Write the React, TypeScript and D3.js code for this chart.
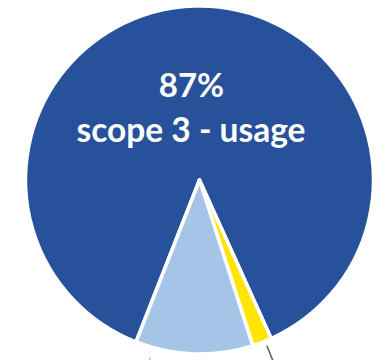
import React from "react";
import * as d3 from "d3";

const categories = ["scope 3 - usage", "other", "scope 3 - manufacturing"];
const values = [87.3, 1.8, 10.9];
const colors = ["#27519A", "#FFE500", "#A6C4E7"];
const centerLabelPct = "87%";
const centerLabelName = "scope 3 - usage";

const W = 386;
const H = 360;
const cx = 199.5;
const cy = 180;
const R = 174;
const startDeg = 201.4;

export default function App() {
  const pie = d3
    .pie<number>()
    .sort(null)
    .value((d) => d)
    .startAngle((startDeg * Math.PI) / 180)
    .endAngle((startDeg * Math.PI) / 180 + 2 * Math.PI);
  const arcs = pie(values);
  const arc = d3.arc<d3.PieArcDatum<number>>().innerRadius(0).outerRadius(R);

  const pt = (a: number, r: number): [number, number] => [
    Math.sin(a) * r,
    -Math.cos(a) * r,
  ];

  // leader lines for labels below the visible area
  const yArc = arcs[1];
  const yMid = (yArc.startAngle + yArc.endAngle) / 2 - 0.018;
  const y1 = pt(yMid, R + 5);
  const y2 = pt(yMid, R + 25);
  const lbArc = arcs[2];
  const lbA = lbArc.startAngle + (lbArc.endAngle - lbArc.startAngle) * 0.85;
  const l1 = pt(lbA, R + 10);
  const l2 = pt(lbA, R + 30);

  return (
    <svg
      width={W}
      height={H}
      style={{ position: "absolute", left: 0, top: 0, background: "#fff" }}
    >
      <g transform={`translate(${cx},${cy})`}>
        {arcs.map((a, i) => (
          <path
            key={categories[i]}
            d={arc(a) || ""}
            fill={colors[i]}
            stroke="#fff"
            strokeWidth={3.5}
            strokeLinejoin="round"
          />
        ))}
        <line x1={y1[0]} y1={y1[1]} x2={y2[0]} y2={y2[1]} stroke="#595959" strokeWidth={1.5} />
        <line x1={l1[0]} y1={l1[1]} x2={l2[0]} y2={l2[1]} stroke="#a0a0a0" strokeWidth={1} />
      </g>
      <g fill="#fff" fontFamily="Lato, 'Open Sans', sans-serif" fontWeight={700} textAnchor="middle">
        <text x={191.5} y={97} fontSize={33}>
          {centerLabelPct}
        </text>
        <text x={191} y={142} fontSize={33.5}>
          {centerLabelName}
        </text>
      </g>
    </svg>
  );
}
